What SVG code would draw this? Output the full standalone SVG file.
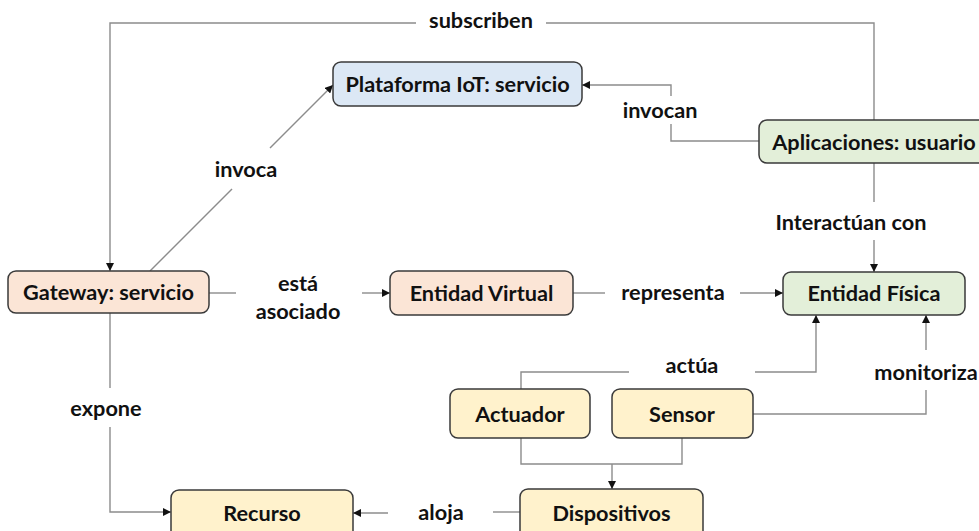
<svg xmlns="http://www.w3.org/2000/svg" width="979" height="531" viewBox="0 0 979 531">
<style>
.box{stroke:#3a3a3a;stroke-width:1.5}
.blue{fill:#dce8f5}
.green{fill:#e3efd9}
.peach{fill:#fbe5d6}
.yellow{fill:#fff2cc}
.t{font-family:Lato,"Liberation Sans",sans-serif;font-weight:bold;font-size:21.7px;fill:#111;text-anchor:middle;dominant-baseline:central}
.c{fill:none;stroke:#8c8c8c;stroke-width:1.4}
</style>
<defs>
<marker id="arr" viewBox="0 0 10 10" refX="10" refY="5" markerWidth="8" markerHeight="8" markerUnits="userSpaceOnUse" orient="auto">
<path d="M0,0 L10,5 L0,10 z" fill="#111"/>
</marker>
</defs>
<rect width="979" height="531" fill="#fff"/>
<g id="connectors">
<path class="c" d="M874,120 V23 H546"/>
<path class="c" d="M416,23 H110 V271" marker-end="url(#arr)"/>
<path class="c" d="M150,271 L232,189"/>
<path class="c" d="M270,148 L333,85" marker-end="url(#arr)"/>
<path class="c" d="M759,141 H671 V124"/>
<path class="c" d="M671,96 V85 H582" marker-end="url(#arr)"/>
<path class="c" d="M874,163 V202"/>
<path class="c" d="M874,240 V272" marker-end="url(#arr)"/>
<path class="c" d="M209,293 H236"/>
<path class="c" d="M362,293 H390" marker-end="url(#arr)"/>
<path class="c" d="M573,293 H605"/>
<path class="c" d="M740,293 H783" marker-end="url(#arr)"/>
<path class="c" d="M521,389 V372 H629"/>
<path class="c" d="M755,372 H816 V315" marker-end="url(#arr)"/>
<path class="c" d="M753,414 H926 V390"/>
<path class="c" d="M926,350 V315" marker-end="url(#arr)"/>
<path class="c" d="M521,438 V464 H682 V438"/>
<path class="c" d="M612,464 V489" marker-end="url(#arr)"/>
<path class="c" d="M110,313 V388"/>
<path class="c" d="M110,427 V512 H171" marker-end="url(#arr)"/>
<path class="c" d="M520,512 H493"/>
<path class="c" d="M388,513 H353" marker-end="url(#arr)"/>
</g>
<g id="labels">
<text class="t" x="481" y="20">subscriben</text>
<text class="t" x="246" y="169">invoca</text>
<text class="t" x="660" y="110">invocan</text>
<text class="t" x="851" y="222">Interactúan con</text>
<text class="t" x="298" y="283">está</text>
<text class="t" x="298" y="311">asociado</text>
<text class="t" x="673" y="292">representa</text>
<text class="t" x="692" y="365">actúa</text>
<text class="t" x="926" y="372">monitoriza</text>
<text class="t" x="106" y="408">expone</text>
<text class="t" x="441" y="512">aloja</text>
</g>
<g id="plataforma">
<rect class="box blue" x="333" y="62" width="249" height="44" rx="8"/>
<text class="t" x="457.5" y="84">Plataforma IoT: servicio</text>
</g>
<g id="aplicaciones">
<rect class="box green" x="759" y="120" width="240" height="43" rx="8"/>
<text class="t" x="874" y="142">Aplicaciones: usuario</text>
</g>
<g id="gateway">
<rect class="box peach" x="8" y="271" width="201" height="42" rx="8"/>
<text class="t" x="108.5" y="292">Gateway: servicio</text>
</g>
<g id="entidad-virtual">
<rect class="box peach" x="390" y="271" width="183" height="44" rx="8"/>
<text class="t" x="481.5" y="293">Entidad Virtual</text>
</g>
<g id="entidad-fisica">
<rect class="box green" x="783" y="272" width="182" height="43" rx="8"/>
<text class="t" x="874" y="293">Entidad Física</text>
</g>
<g id="actuador">
<rect class="box yellow" x="450" y="389" width="140" height="49" rx="8"/>
<text class="t" x="520" y="414">Actuador</text>
</g>
<g id="sensor">
<rect class="box yellow" x="612" y="389" width="141" height="49" rx="8"/>
<text class="t" x="682" y="414">Sensor</text>
</g>
<g id="recurso">
<rect class="box yellow" x="171" y="490" width="182" height="50" rx="8"/>
<text class="t" x="262" y="513">Recurso</text>
</g>
<g id="dispositivos">
<rect class="box yellow" x="520" y="489" width="183" height="51" rx="8"/>
<text class="t" x="611.5" y="513">Dispositivos</text>
</g>
</svg>
